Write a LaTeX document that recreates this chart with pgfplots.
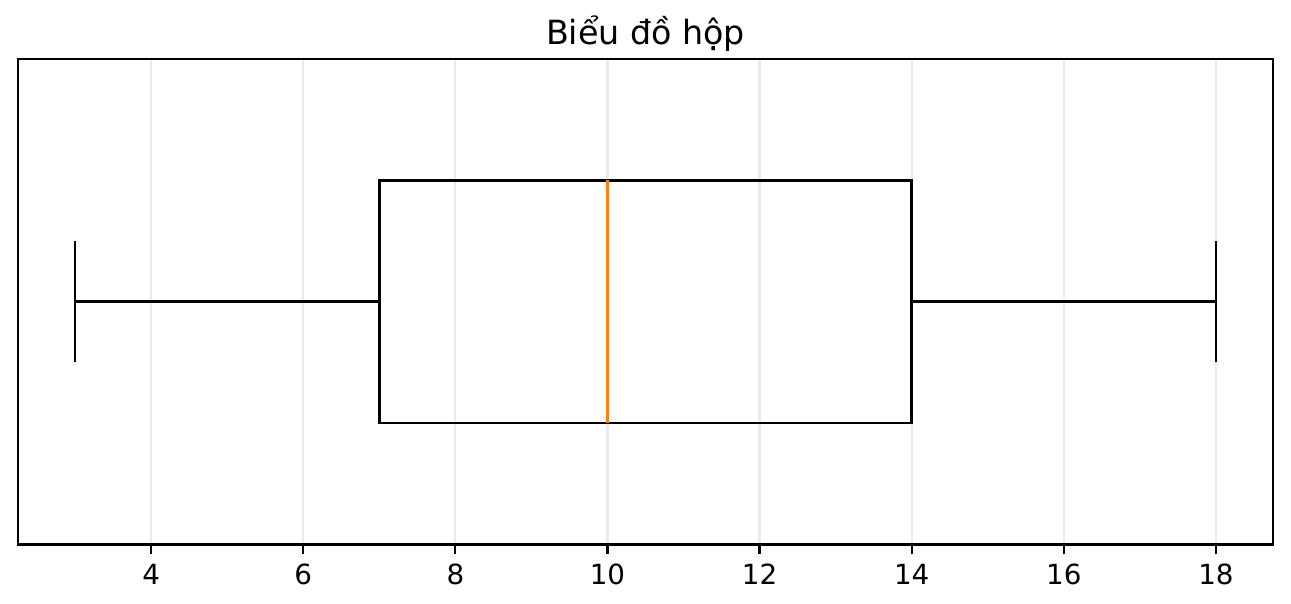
\documentclass[border=0pt]{standalone}
\usepackage{fontspec}
\setmainfont{DejaVu Sans}
\usepackage{pgfplots}
\pgfplotsset{compat=1.18}
\usepgfplotslibrary{statistics}

\definecolor{mplorange}{HTML}{FF7F0E}
\definecolor{gridgray}{HTML}{EBEBEB}

\begin{document}
\begin{tikzpicture}
\begin{axis}[
    scale only axis,
    width=452.2pt, height=175pt,
    xmin=2.25, xmax=18.75,
    ymin=0.5, ymax=1.5,
    xtick={4,6,...,18},
    ytick=\empty,
    xtick pos=bottom,
    tick align=outside,
    major tick length=3.5pt,
    tick style={line width=0.8pt, black},
    axis line style={line width=0.8pt},
    xmajorgrids,
    grid style={line width=0.8pt, gridgray},
    ticklabel style={font=\fontsize{10}{12}\selectfont},
    /pgf/number format/assume math mode=true,
]
\coordinate (sw) at (rel axis cs:0,0);
\coordinate (ne) at (rel axis cs:1,1);
\coordinate (tt) at (rel axis cs:0.5,1);
\addplot[black, line width=0.9pt,
    boxplot prepared={
        draw position=1,
        lower whisker=3,
        lower quartile=7,
        median=10,
        upper quartile=14,
        upper whisker=18,
        box extend=0.5,
        whisker extend=0.25,
        every median/.style={draw=mplorange, line width=0.9pt},
    },
] coordinates {};
\end{axis}
\node[anchor=base, inner sep=0pt, font=\fontsize{12}{14}\selectfont] at ([yshift=5pt]tt) {Biểu đồ hộp};
\pgfresetboundingbox
\path ([shift={(-6.48pt,-21.2pt)}]sw) rectangle ([shift={(6.48pt,21.2pt)}]ne);
\end{tikzpicture}
\end{document}
